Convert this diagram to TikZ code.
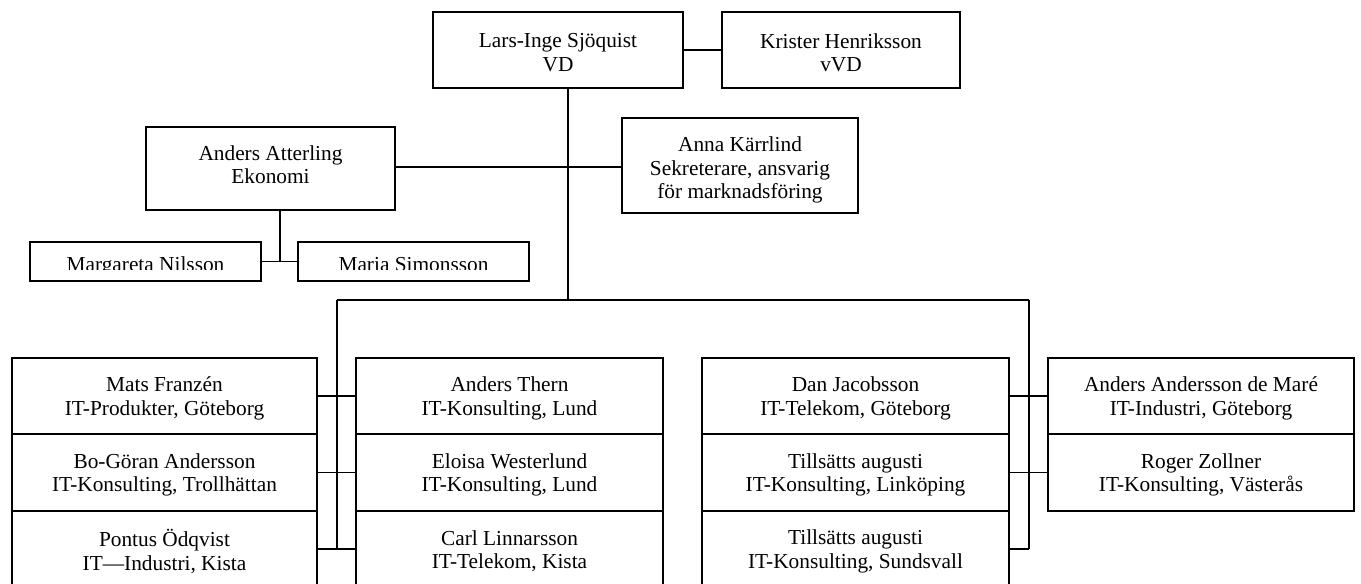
\documentclass[tikz,border=0pt]{standalone}
\usepackage{fontspec}
\setmainfont{Liberation Serif}
\usetikzlibrary{fit}
\begin{document}
\begin{tikzpicture}[x=0.75pt,y=-0.75pt,
  box/.style={draw, line width=1.1pt, inner sep=0pt},
  conn/.style={line width=1.1pt},
  lbl/.style={inner sep=0pt, font=\fontsize{16}{17.5}\selectfont},
  txt/.style={lbl, align=center, yshift=-1.9pt}]
\clip (0,0) rectangle (1361,584);
% top
\node[box, fit={(433,12)(683,88)}] (lars) {};
\node[txt] (larst) at (lars) {Lars-Inge Sjöquist\\VD};
\node[box, fit={(722,12)(960,88)}] (krister) {};
\node[txt] (kristert) at (krister) {Krister Henriksson\\vVD};
\node[box, fit={(146,127)(395,210)}] (atter) {};
\node[txt] (attert) at (270.5,162.5) {Anders Atterling\\Ekonomi};
\node[box, fit={(622,118)(858,213)}] (anna) {};
\node[txt, yshift=-1.5pt] (annat) at (anna) {Anna Kärrlind\\Sekreterare, ansvarig\\för marknadsföring};
\node[box, fit={(30,242)(261,281)}] (marg) {};
\node[box, fit={(298,242)(529,281)}] (maria) {};
\begin{scope}
\clip (0,230) rectangle (600,269.5);
\node[lbl, anchor=base] (margtxt) at (145.5,271.5) {Margareta Nilsson};
\node[lbl, anchor=base] (mariatxt) at (413.5,271.5) {Maria Simonsson};
\end{scope}
% columns
\node[box, fit={(12,358)(317,434)}] (a1) {};
\node[txt] (a1t) at (a1) {Mats Franzén\\IT-Produkter, Göteborg};
\node[box, fit={(12,434)(317,511)}] (a2) {};
\node[txt] (a2t) at (a2) {Bo-Göran Andersson\\IT-Konsulting, Trollhättan};
\node[box, fit={(12,511)(317,587)}] (a3) {};
\node[txt] (a3t) at (a3) {Pontus Ödqvist\\IT—Industri, Kista};
\node[box, fit={(356,358)(663,434)}] (b1) {};
\node[txt] (b1t) at (b1) {Anders Thern\\IT-Konsulting, Lund};
\node[box, fit={(356,434)(663,511)}] (b2) {};
\node[txt] (b2t) at (b2) {Eloisa Westerlund\\IT-Konsulting, Lund};
\node[box, fit={(356,511)(663,587)}] (b3) {};
\node[txt] (b3t) at (b3) {Carl Linnarsson\\IT-Telekom, Kista};
\node[box, fit={(702,358)(1009,434)}] (c1) {};
\node[txt] (c1t) at (c1) {Dan Jacobsson\\IT-Telekom, Göteborg};
\node[box, fit={(702,434)(1009,511)}] (c2) {};
\node[txt] (c2t) at (c2) {Tillsätts augusti\\IT-Konsulting, Linköping};
\node[box, fit={(702,511)(1009,587)}] (c3) {};
\node[txt] (c3t) at (c3) {Tillsätts augusti\\IT-Konsulting, Sundsvall};
\node[box, fit={(1048,358)(1354,434)}] (d1) {};
\node[txt] (d1t) at (d1) {Anders Andersson de Maré\\IT-Industri, Göteborg};
\node[box, fit={(1048,434)(1354,511)}] (d2) {};
\node[txt] (d2t) at (d2) {Roger Zollner\\IT-Konsulting, Västerås};
% coordinates
\coordinate (vd) at (568,300);
\coordinate (tl) at (337,300);
\coordinate (tr) at (1029,300);
\coordinate (ex) at (280,300);
\coordinate (ay) at (395,167);
% connectors
\draw[conn] (lars.east) -- (krister.west);
\draw[conn] (lars.south -| vd) -- (vd);
\draw[conn] (tl) -- (tr);
\draw[conn] (tl) -- (tl |- a3.east);
\draw[conn] (tr) -- (tr |- c3.east);
\draw[conn] (atter.east |- ay) -- (ay -| anna.west);
\draw[conn] (atter.south -| ex) -- (ex |- marg.east);
\draw[conn] (marg.east) -- (maria.west);
\draw[conn] (a1.east) -- (b1.west);
\draw[conn] (a2.east) -- (b2.west);
\draw[conn] (a3.east) -- (b3.west);
\draw[conn] (c1.east) -- (d1.west);
\draw[conn] (c2.east) -- (d2.west);
\draw[conn] (c3.east) -- (tr |- c3.east);
\end{tikzpicture}
\end{document}
